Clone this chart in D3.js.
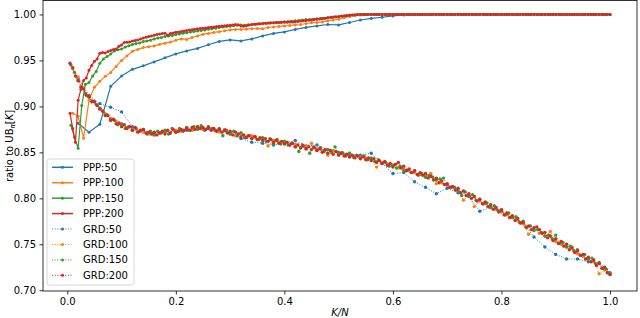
<!DOCTYPE html>
<html><head><meta charset="utf-8">
<script src="https://cdn.jsdelivr.net/npm/d3@7"></script>
<style>
html,body{margin:0;padding:0;background:#fff;}
svg{display:block;font-family:"DejaVu Sans",sans-serif;}
</style></head><body>
<svg id="c" width="640" height="318"></svg>
<script>
// ---- data ----
const seriesNames = ["PPP:50","PPP:100","PPP:150","PPP:200","GRD:50","GRD:100","GRD:150","GRD:200"];
const sizesN = [50,100,150,200,50,100,150,200];
const xTicks = [0.0,0.2,0.4,0.6,0.8,1.0];
const yTicks = [0.70,0.75,0.80,0.85,0.90,0.95,1.00];

const ppp50 = [0.8817,0.8719,0.8806,0.9218,0.9332,0.9403,0.9441,0.9484,0.9528,0.9571,
0.9604,0.9631,0.9671,0.9707,0.9723,0.9712,0.9734,0.9767,0.9794,0.9810,
0.9837,0.9859,0.9875,0.9891,0.9886,0.9913,0.9940,0.9957,0.9970,0.9984,
0.9995,1,1,1,1,1,1,1,1,1,
1,1,1,1,1,1,1,1,1,1];

const ppp100 = [0.8925,0.8892,0.8654,0.9066,0.9207,0.9273,0.9327,0.937,0.9435,0.950,
0.955,0.960,0.962,0.964,0.965,0.9658,0.9674,0.9688,0.970,0.972,
0.9734,0.9729,0.975,0.9767,0.9786,0.9794,0.9805,0.9813,0.9823,0.9832,
0.9837,0.9837,0.984,0.9845,0.9848,0.9845,0.9859,0.9864,0.987,0.9875,
0.988,0.9886,0.9891,0.9902,0.991,0.9913,0.9919,0.993,0.994,0.9948,
0.9964,0.9978,0.9989,0.9995,1,1,1,1,1,1,
1,1,1,1,1,1,1,1,1,1,
1,1,1,1,1,1,1,1,1,1,
1,1,1,1,1,1,1,1,1,1,
1,1,1,1,1,1,1,1,1,1];

const ppp150 = [0.8795,0.8664,0.8545,0.901,0.924,0.926,0.933,0.938,0.947,0.9517,
0.9544,0.957,0.9604,0.9615,0.9625,0.9645,0.966,0.9674,0.9683,0.969,
0.9707,0.9712,0.972,0.9734,0.9743,0.975,0.9761,0.9767,0.9772,0.9783,
0.9788,0.9797,0.9802,0.9808,0.9815,0.9821,0.9826,0.9832,0.9839,0.9846,
0.9851,0.9857,0.9864,0.9868,0.9873,0.9878,0.9884,0.9886,0.9883,0.9889,
0.9891,0.9895,0.9899,0.9902,0.9904,0.9908,0.9911,0.9913,0.9915,0.9921,
0.9924,0.9927,0.9932,0.9935,0.994,0.9944,0.9946,0.9949,0.9953,0.9957,
0.996,0.9964,0.9967,0.9973,0.9976,0.998,0.9987,0.9991,0.9995,0.9998,
1,1,1,1,1,1,1,1,1,1,
1,1,1,1,1,1,1,1,1,1,
1,1,1,1,1,1,1,1,1,1,
1,1,1,1,1,1,1,1,1,1,
1,1,1,1,1,1,1,1,1,1,
1,1,1,1,1,1,1,1,1,1,
1,1,1,1,1,1,1,1,1,1];

const ppp200 = [0.8925,0.876,0.861,0.9066,0.9186,0.9283,0.931,0.9392,0.9446,0.949,
0.9517,0.9577,0.9587,0.9582,0.9598,0.9609,0.962,0.9625,0.9653,0.9669,
0.9696,0.9699,0.9701,0.9712,0.9718,0.9723,0.9734,0.9745,0.9752,0.9761,
0.9767,0.9774,0.9783,0.9788,0.9794,0.9797,0.9774,0.9794,0.9799,0.9807,
0.981,0.9815,0.9821,0.9826,0.9832,0.9835,0.984,0.9845,0.9848,0.9851,
0.9853,0.9859,0.9862,0.9864,0.9868,0.9872,0.9875,0.9877,0.9881,0.9883,
0.9886,0.9891,0.9888,0.9875,0.9872,0.9878,0.9886,0.9891,0.9894,0.9897,
0.99,0.9902,0.9904,0.9908,0.991,0.9911,0.9913,0.9914,0.9915,0.9916,
0.9916,0.9917,0.9919,0.9922,0.9924,0.9928,0.9932,0.9935,0.9938,0.9941,
0.9945,0.9948,0.9952,0.9957,0.996,0.9964,0.9969,0.9972,0.9975,0.9978,
0.9983,0.9986,0.9989,0.9992,0.9995,0.9997,1,1,1,1,
1,1,1,1,1,1,1,1,1,1,
1,1,1,1,1,1,1,1,1,1,
1,1,1,1,1,1,1,1,1,1,
1,1,1,1,1,1,1,1,1,1,
1,1,1,1,1,1,1,1,1,1,
1,1,1,1,1,1,1,1,1,1,
1,1,1,1,1,1,1,1,1,1,
1,1,1,1,1,1,1,1,1,1,
1,1,1,1,1,1,1,1,1,1];

const grd50 = [0.930,0.912,0.903,0.899,0.894,0.878,0.873,0.871,0.872,0.873,
0.874,0.877,0.876,0.874,0.871,0.865,0.861,0.860,0.858,0.860,
0.863,0.857,0.858,0.853,0.850,0.848,0.847,0.849,0.838,0.827,
0.828,0.818,0.812,0.805,0.811,0.806,0.802,0.786,0.790,0.786,
0.780,0.773,0.758,0.747,0.739,0.734,0.734,0.731,0.730,0.719];

const grd100 = [0.941,0.932,0.920,0.911,0.905,0.898,0.892,0.887,0.884,0.881,
0.877,0.875,0.873,0.872,0.870,0.869,0.871,0.872,0.871,0.874,
0.873,0.877,0.874,0.878,0.875,0.878,0.874,0.872,0.875,0.870,
0.868,0.871,0.867,0.868,0.864,0.865,0.857,0.863,0.861,0.862,
0.858,0.859,0.855,0.857,0.860,0.854,0.852,0.847,0.852,0.848,
0.848,0.849,0.846,0.845,0.844,0.842,0.834,0.839,0.837,0.836,
0.833,0.832,0.830,0.828,0.826,0.825,0.827,0.816,0.817,0.814,
0.812,0.809,0.798,0.803,0.791,0.797,0.794,0.791,0.788,0.785,
0.782,0.779,0.776,0.772,0.761,0.766,0.762,0.759,0.764,0.753,
0.750,0.747,0.747,0.740,0.737,0.734,0.731,0.718,0.722,0.718];

const grd150 = [0.945,0.937,0.928,0.921,0.914,0.910,0.906,0.902,0.898,0.894,
0.891,0.885,0.885,0.880,0.881,0.876,0.878,0.874,0.876,0.873,
0.875,0.870,0.873,0.869,0.873,0.871,0.874,0.870,0.876,0.872,
0.876,0.873,0.877,0.874,0.878,0.875,0.879,0.874,0.878,0.876,
0.874,0.876,0.868,0.874,0.870,0.873,0.868,0.871,0.866,0.868,
0.865,0.867,0.864,0.866,0.862,0.865,0.860,0.864,0.859,0.862,
0.858,0.860,0.856,0.851,0.858,0.854,0.849,0.856,0.852,0.855,
0.851,0.853,0.850,0.856,0.849,0.850,0.846,0.849,0.845,0.847,
0.844,0.846,0.842,0.844,0.840,0.842,0.838,0.839,0.835,0.836,
0.833,0.835,0.830,0.831,0.828,0.830,0.825,0.827,0.823,0.825,
0.823,0.820,0.821,0.822,0.815,0.812,0.812,0.808,0.803,0.807,
0.803,0.804,0.798,0.799,0.794,0.795,0.790,0.792,0.787,0.788,
0.782,0.784,0.779,0.780,0.774,0.775,0.768,0.770,0.765,0.766,
0.763,0.759,0.760,0.756,0.760,0.751,0.752,0.747,0.748,0.743,
0.744,0.738,0.739,0.734,0.735,0.729,0.730,0.724,0.723,0.718];

const grd200 = [0.947,0.942,0.933,0.928,0.921,0.919,0.912,0.911,0.905,0.905,
0.901,0.897,0.895,0.890,0.890,0.885,0.886,0.881,0.882,0.878,
0.880,0.876,0.878,0.874,0.877,0.872,0.874,0.875,0.871,0.872,
0.870,0.872,0.869,0.871,0.873,0.870,0.874,0.871,0.875,0.872,
0.873,0.875,0.874,0.876,0.874,0.877,0.875,0.878,0.876,0.877,
0.875,0.877,0.874,0.876,0.873,0.875,0.872,0.874,0.871,0.873,
0.869,0.872,0.870,0.867,0.869,0.866,0.868,0.865,0.867,0.864,
0.866,0.863,0.865,0.862,0.864,0.861,0.863,0.860,0.862,0.859,
0.861,0.858,0.860,0.856,0.858,0.855,0.857,0.854,0.856,0.853,
0.855,0.852,0.854,0.850,0.853,0.849,0.852,0.848,0.851,0.847,
0.849,0.846,0.848,0.845,0.847,0.844,0.846,0.843,0.845,0.842,
0.844,0.841,0.843,0.839,0.841,0.838,0.840,0.836,0.838,0.834,
0.837,0.839,0.833,0.835,0.830,0.832,0.828,0.830,0.826,0.828,
0.825,0.827,0.822,0.824,0.820,0.822,0.817,0.819,0.815,0.816,
0.812,0.813,0.809,0.811,0.806,0.808,0.803,0.805,0.800,0.802,
0.797,0.799,0.794,0.796,0.791,0.793,0.788,0.790,0.785,0.787,
0.782,0.784,0.779,0.781,0.776,0.778,0.773,0.774,0.769,0.770,
0.766,0.768,0.769,0.766,0.762,0.763,0.757,0.759,0.754,0.756,
0.751,0.753,0.748,0.750,0.744,0.746,0.741,0.743,0.738,0.739,
0.734,0.736,0.731,0.733,0.727,0.729,0.724,0.725,0.719,0.717];

const seriesValues = [ppp50, ppp100, ppp150, ppp200, grd50, grd100, grd150, grd200];
const colors = ["#1f77b4","#ff7f0e","#2ca02c","#d62728","#1f77b4","#ff7f0e","#2ca02c","#d62728"];

// ---- layout ----
const svg = d3.select("#c");
const L = 43, R = 637, T = 0.5, B = 291;
const x = d3.scaleLinear().domain([-0.04475, 1.04975]).range([L, R]);
const y = d3.scaleLinear().domain([0.6992, 1.0152]).range([B, T]);

svg.append("clipPath").attr("id","clip").append("rect")
  .attr("x",L).attr("y",T).attr("width",R-L).attr("height",B-T);

const plot = svg.append("g").attr("clip-path","url(#clip)");
const line = d3.line().x(d=>x(d[0])).y(d=>y(d[1]));

seriesValues.forEach((vals, i) => {
  const N = sizesN[i];
  const pts = vals.map((v, k) => [(k+1)/N, v]);
  const isGrd = i >= 4;
  const g = plot.append("g");
  g.append("path").attr("d", line(pts)).attr("fill","none")
    .attr("stroke", colors[i]).attr("stroke-width", isGrd ? 1 : 1.2)
    .attr("stroke-dasharray", isGrd ? "1,1.65" : null);
  g.selectAll("circle").data(pts).join("circle")
    .attr("cx", d=>x(d[0])).attr("cy", d=>y(d[1])).attr("r", isGrd ? 1.7 : 1.5)
    .attr("fill", colors[i]);
});

svg.append("rect").attr("x",L).attr("y",T).attr("width",R-L).attr("height",B-T)
  .attr("fill","none").attr("stroke","#000").attr("stroke-width",0.8);

const xAxis = d3.axisBottom(x).tickValues(xTicks).tickFormat(d3.format(".1f")).tickSize(3.5).tickPadding(3.5);
const gx = svg.append("g").attr("transform",`translate(0,${B})`).call(xAxis);
const yAxis = d3.axisLeft(y).tickValues(yTicks).tickFormat(d3.format(".2f")).tickSize(3.5).tickPadding(3.5);
const gy = svg.append("g").attr("transform",`translate(${L},0)`).call(yAxis);
[gx, gy].forEach(g => {
  g.select(".domain").remove();
  g.selectAll(".tick line").attr("stroke","#000").attr("stroke-width",0.8);
  g.selectAll(".tick text").attr("fill","#000").style("font-size","10px").style("font-family","DejaVu Sans");
});

svg.append("text").attr("x", (L+R)/2).attr("y", 316).attr("text-anchor","middle")
  .style("font-size","10px").style("font-style","italic").text("K/N");

const yl = svg.append("text").attr("transform","translate(12.5,146) rotate(-90)")
  .attr("text-anchor","middle").style("font-size","10px");
yl.append("tspan").text("ratio to UB");
yl.append("tspan").attr("dy",2).style("font-size","7px").style("font-style","italic").text("π");
yl.append("tspan").attr("dy",-2).text("[");
yl.append("tspan").style("font-style","italic").text("K");
yl.append("tspan").text("]");

const lg = svg.append("g");
lg.append("rect").attr("x",47).attr("y",159).attr("width",87).attr("height",126)
  .attr("rx",2.5).attr("fill","#fff").attr("fill-opacity",0.8)
  .attr("stroke","#cccccc").attr("stroke-width",0.8);
seriesNames.forEach((name, i) => {
  const yy = 167.3 + i*15.43;
  const isGrd = i >= 4;
  lg.append("line").attr("x1",52).attr("x2",73).attr("y1",yy).attr("y2",yy)
    .attr("stroke",colors[i]).attr("stroke-width", isGrd ? 1 : 1.5)
    .attr("stroke-dasharray", isGrd ? "1,1.65" : null);
  lg.append("circle").attr("cx",62.5).attr("cy",yy).attr("r",1.5).attr("fill",colors[i]);
  lg.append("text").attr("x",83).attr("y",yy).attr("dy","0.35em")
    .style("font-size","10px").text(name);
});
</script>
</body></html>
